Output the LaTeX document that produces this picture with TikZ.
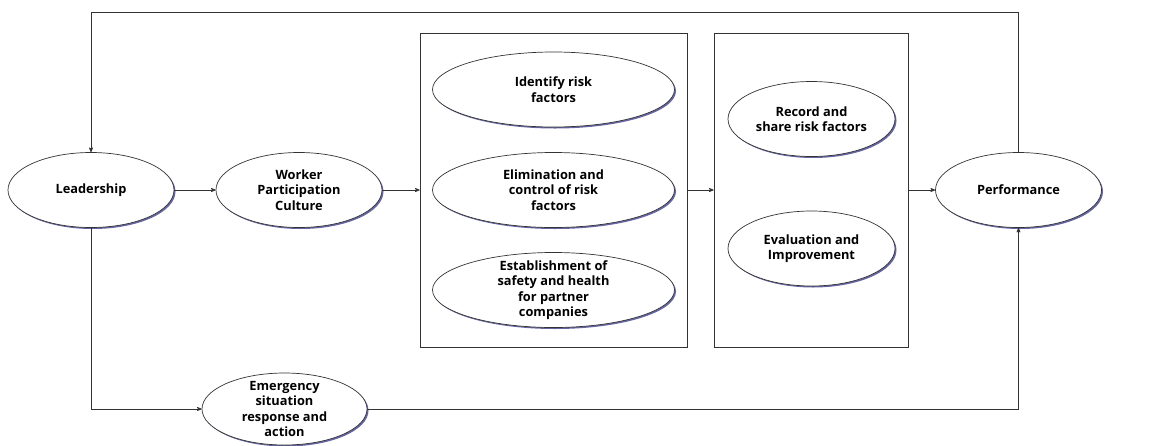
\documentclass[tikz,border=0pt]{standalone}
\usepackage{fontspec}
\setmainfont{Open Sans}
\usetikzlibrary{arrows,shapes.geometric,shadows}

\begin{document}
\begin{tikzpicture}[x=1pt,y=-1pt,->,>=stealth',line width=0.7pt,draw=black!80,node distance=208pt,
    factor/.style={ellipse,draw=black!80,fill=white,inner sep=0pt,minimum width=166pt,minimum height=75pt,align=center,
      font=\bfseries\fontsize{12.8}{15.5}\selectfont,
      drop shadow={shadow xshift=1.5pt,shadow yshift=-1.5pt,fill=black!60!blue,opacity=0.6}},
    stage/.style={rectangle,draw=black!80,minimum height=314pt,inner sep=0pt}]

      \useasboundingbox (0,0) rectangle (1173,445);

      \node[factor] (lead) at (91,190) {Leadership};
      \node[factor] (work) [right of=lead] {Worker\\Participation\\Culture};
      \node[stage,minimum width=267pt] (box1) [right of=work,node distance=254.5pt] {};
      \node[stage,minimum width=194pt] (box2) [right of=box1,node distance=257.5pt] {};
      \node[factor] (perf) [right of=box2,node distance=207.5pt] {Performance};

      \node[factor,minimum width=242pt] (ident) at (553.5,89.5) {Identify risk\\factors};
      \node[factor,minimum width=242pt] (elim) at (553.5,190) {Elimination and\\control of risk\\factors};
      \node[factor,minimum width=242pt,inner ysep=-8pt] (estab) at (553.5,290) {Establishment of\\safety and health\\for partner\\companies};
      \node[factor,minimum width=167pt] (record) at (811.5,119) {Record and\\share risk factors};
      \node[factor,minimum width=167pt] (eval) at (811.5,248.5) {Evaluation and\\Improvement};
      \node[factor,minimum width=165pt,minimum height=72pt,inner ysep=-8pt] (emer) at (284.5,409) {Emergency\\situation\\response and\\action};

      \coordinate (topR) at (1018.5,12);
      \coordinate (topL) at (91,12);
      \coordinate (botL) at (91,409);
      \coordinate (botR) at (1018.5,409);

      \path (lead) edge (work);
      \path (work) edge (box1);
      \path (box1) edge (box2);
      \path (box2) edge (perf);

      \draw (perf) -- (topR) -- (topL) -- (lead);
      \draw (lead) -- (botL) -- (emer);
      \draw (emer) -- (botR) -- (perf);

    \end{tikzpicture}
\end{document}
